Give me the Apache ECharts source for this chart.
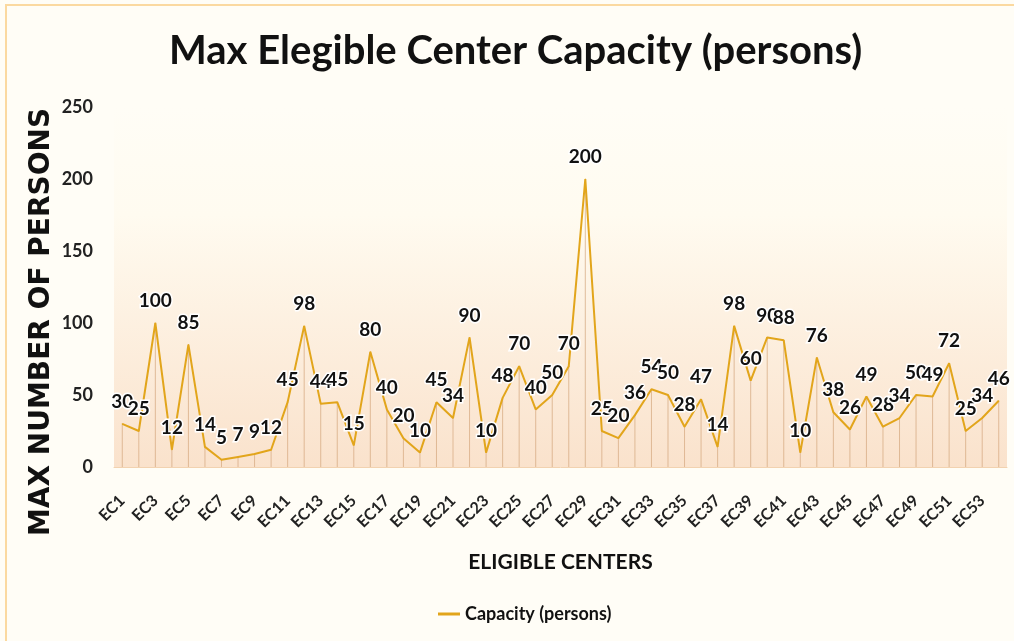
<!DOCTYPE html>
<html>
<head>
<meta charset="utf-8">
<script src="https://cdn.jsdelivr.net/npm/echarts@6/dist/echarts.min.js"></script>
<style>
html,body{margin:0;padding:0;background:#fffdf6;}
#frame{position:absolute;left:5px;top:4px;width:1012px;height:640px;border-left:2px solid #fbd9a0;border-top:2px solid #fbd9a0;box-sizing:border-box;}
#chart{position:absolute;left:0;top:0;width:1014px;height:641px;}
</style>
</head>
<body>
<div id="frame"></div>
<div id="chart"></div>
<script>
const categories = [];
for (let i = 1; i <= 54; i++) categories.push('EC' + i);
const capacity = [30, 25, 100, 12, 85, 14, 5, 7, 9, 12, 45, 98, 44, 45, 15, 80, 40, 20, 10, 45,
  34, 90, 10, 48, 70, 40, 50, 70, 200, 25, 20, 36, 54, 50, 28, 47, 14, 98, 60, 90,
  88, 10, 76, 38, 26, 49, 28, 34, 50, 49, 72, 25, 34, 46];
const yTicks = [0, 50, 100, 150, 200, 250];
const seriesName = 'Capacity (persons)';
const titleText = 'Max Elegible Center Capacity (persons)';
const yAxisTitle = 'MAX NUMBER OF PERSONS';

const chart = echarts.init(document.getElementById('chart'), null, {renderer: 'canvas'});
chart.setOption({
  backgroundColor: 'transparent',
  animation: false,
  title: {
    text: titleText,
    left: 164,
    top: 26,
    textStyle: {fontFamily: 'Lato', fontWeight: 'bold', fontSize: 40, color: '#111'}
  },
  graphic: [{
    type: 'text',
    x: 42,
    y: 322,
    rotation: Math.PI / 2,
    style: {
      text: yAxisTitle,
      fill: '#111',
      font: 'bold 28px "DejaVu Sans"',
      align: 'center',
      verticalAlign: 'middle'
    }
  }],
  legend: {
    bottom: 13,
    left: 433,
    data: [{name: seriesName, icon: 'rect'}],
    itemWidth: 22,
    itemHeight: 3,
    itemGap: 4,
    textStyle: {fontFamily: 'Lato', fontWeight: 'bold', fontSize: 18, color: '#111'}
  },
  grid: {
    left: 114, right: 7, top: 107, bottom: 174,
    show: true, borderWidth: 0,
    backgroundColor: new echarts.graphic.LinearGradient(0, 0, 0, 1, [
      {offset: 0, color: 'rgba(255,253,246,1)'},
      {offset: 0.3, color: 'rgba(255,251,240,1)'},
      {offset: 1, color: 'rgba(250,226,204,1)'}
    ])
  },
  xAxis: {
    type: 'category',
    data: categories,
    boundaryGap: true,
    name: 'ELIGIBLE CENTERS',
    nameLocation: 'middle',
    nameGap: 85,
    nameTextStyle: {fontFamily: 'Lato', fontWeight: 'bold', fontSize: 21, color: '#111'},
    axisLine: {lineStyle: {color: '#f2d2b0', width: 1}},
    axisTick: {show: false},
    axisLabel: {
      interval: 1, rotate: 45, fontFamily: 'Lato', fontWeight: 'bold', fontSize: 16, color: '#222', margin: 31
    }
  },
  yAxis: {
    type: 'value',
    min: 0, max: 250, interval: 50,
    axisLine: {show: false},
    axisTick: {show: false},
    splitLine: {show: false},
    axisLabel: {
      fontFamily: 'Lato', fontWeight: 'bold', fontSize: 18, color: '#222', margin: 21,
      formatter: v => yTicks.includes(v) ? String(v) : ''
    }
  },
  series: [
    {
      name: 'drop',
      type: 'bar',
      data: capacity,
      barWidth: 1,
      itemStyle: {color: 'rgba(214,170,130,0.75)'},
      silent: true,
      z: 1,
      legendHoverLink: false
    },
    {
      name: seriesName,
      type: 'line',
      data: capacity,
      showSymbol: true,
      symbol: 'circle',
      symbolSize: 1,
      lineStyle: {color: '#e2a51b', width: 2},
      itemStyle: {color: '#e2a51b'},
      z: 3,
      label: {
        show: true,
        position: 'top',
        distance: 12,
        fontFamily: 'Lato',
        fontWeight: 'bold',
        fontSize: 19,
        color: '#111',
        textBorderColor: '#fff',
        textBorderWidth: 3
      },
      labelLayout: {hideOverlap: false}
    }
  ]
});
</script>
</body>
</html>
